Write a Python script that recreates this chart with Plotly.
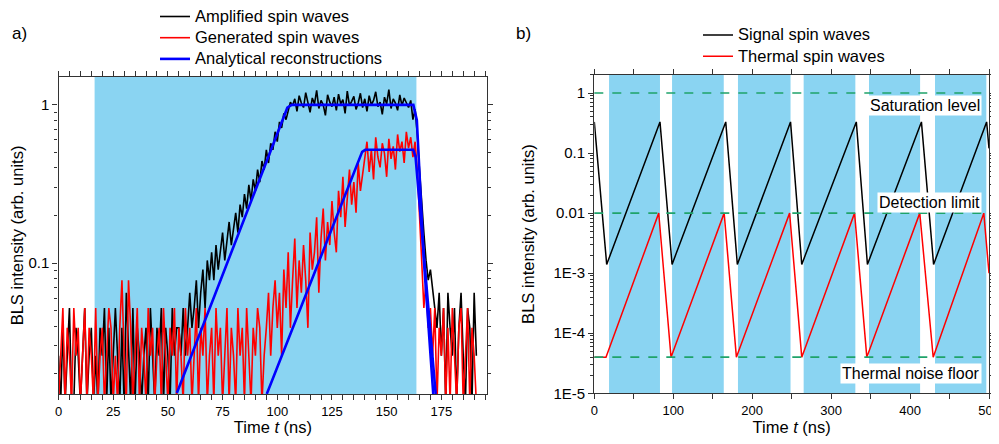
import numpy as np
import plotly.graph_objects as go

COUNT = 0.013  # BLS intensity of one detected photon (arb. units)

# ---------------- panel a) : measured traces, 1 ns bins, photon counts
time_a = list(range(192))

amplified_counts = [
    2, 1, 3, 1, 2, 4, 1, 1, 3, 2, 1, 2, 4, 1, 2, 3, 1, 2, 1, 3,
    2, 4, 1, 3, 1, 2, 4, 2, 1, 3, 1, 5, 2, 1, 4, 1, 3, 2, 1, 2,
    3, 1, 4, 2, 1, 3, 2, 4, 1, 3, 2, 1, 4, 2, 3,
    # 55 .. 104 : amplification
    3, 2, 4, 2, 3, 5, 3, 4, 6, 3, 5, 7, 4, 8, 6, 9, 6, 10, 7, 9,
    12, 8, 11, 14, 10, 13, 16, 12, 18, 15, 21, 17, 24, 19, 26, 22, 30, 25, 34, 30,
    40, 33, 44, 40, 52, 45, 60, 55, 68, 62,
    # 105 .. 162 : saturation
    72, 80, 76, 84, 70, 88, 79, 74, 92, 81, 69, 85, 78, 95, 73, 82, 77, 66, 89, 80,
    75, 86, 71, 90, 78, 83, 68, 94, 76, 81, 87, 72, 79, 91, 74, 84, 70, 88, 77, 82,
    93, 75, 80, 67, 86, 78, 96, 73, 84, 79, 71, 89, 76, 85, 80, 74, 82, 62,
    # 163 .. 172 : decay
    72, 50, 30, 18, 12, 8, 6, 7, 5, 4,
    # 173 .. 191
    3, 5, 2, 4, 1, 5, 3, 2, 4, 1, 3, 5, 2, 1, 4, 3, 1, 5, 2,
]

generated_counts = [
    1, 2, 4, 1, 3, 2, 1, 4, 2, 3, 1, 2, 4, 1, 3, 2, 1, 4, 1, 2,
    3, 1, 2, 4, 3, 1, 2, 1, 3, 6, 2, 1, 6, 3, 1, 2, 4, 1, 3, 2,
    1, 4, 2, 3, 1, 2, 3, 1, 4, 2, 1, 3, 2, 4, 1, 3, 2, 1, 4, 2,
    3, 1, 2, 4, 1, 3, 2, 4, 1, 2, 3, 1, 4, 2, 3, 1, 2, 4, 1, 3,
    2, 1, 4, 2, 3, 1, 4, 2, 1, 3, 2, 4, 3, 1, 2,
    # 95 .. 139 : growth
    3, 5, 2, 4, 6, 3, 5, 2, 7, 4, 9, 3, 6, 11, 4, 8, 5, 10, 6, 3,
    12, 7, 9, 15, 5, 11, 17, 8, 14, 10, 19, 12, 9, 22, 15, 27, 13, 20, 30, 18,
    25, 16, 33, 22, 28,
    # 140 .. 162 : saturation
    34, 45, 29, 40, 26, 48, 36, 31, 44, 38, 27, 47, 35, 42, 30, 50, 39, 45, 33, 52,
    41, 48, 36,
    # 163 .. 170 : decay
    45, 30, 14, 8, 4, 6, 3, 4,
    # 171 .. 191
    2, 4, 1, 3, 2, 4, 1, 3, 1, 4, 2, 1, 3, 4, 1, 2, 4, 1, 3, 2, 1,
]

amplified = [c * COUNT for c in amplified_counts]
generated = [c * COUNT for c in generated_counts]

recon_amp_t = [54.1, 103.0, 104.6, 106.6, 162.2, 163.8, 167.0, 171.3]
recon_amp_v = [0.0151, 0.86, 0.96, 1.0, 1.0, 0.8, 0.104, 0.0149]
recon_gen_t = [95.2, 137.6, 138.8, 140.2, 162.2, 163.2, 164.5, 172.4]
recon_gen_v = [0.0149, 0.47, 0.505, 0.52, 0.52, 0.47, 0.29, 0.0149]

pump_a = (16.5, 163.6)

# ---------------- panel b) : model
signal_t = [0, 15.7, 83.2, 98.5, 166.5, 181.2, 248.6, 262.8, 331.9, 346.0, 414.4, 429.8, 497.0, 500]
signal_v = [0.33, 0.0014, 0.33, 0.0014, 0.33, 0.0014, 0.33, 0.0014, 0.33, 0.0014, 0.33, 0.0014, 0.33, 0.12]
thermal_t = [0, 14.8, 81.6, 97.2, 164.5, 180.0, 247.4, 262.8, 329.7, 345.2, 412.3, 429.3, 493.4, 500]
thermal_v = [4e-5, 4e-5, 0.01, 4e-5, 0.01, 4e-5, 0.01, 4e-5, 0.01, 4e-5, 0.01, 4e-5, 0.01, 1e-3]

pump_on = [18.7, 98.5, 182.0, 265.2, 348.0, 431.6]
pump_off = [83.2, 164.0, 248.6, 330.7, 412.7, 496.6]

levels = [1.0, 0.01, 4e-5]
level_names = ["Saturation level", "Detection limit", "Thermal noise floor"]
level_label_shift = [-0.21, 0.17, -0.28]

# ---------------- styling
W, H = 991, 428          # page body has an 8 px margin
FONT = "Arial, Liberation Sans, sans-serif"
PUMP = "#8ad4f2"
AXC = "#333333"
GREEN = "#1fa36a"


def lg(name):
    # legend rows are spaced by the (smaller) legend font, text drawn larger
    return '<span style="font-size:16.5px">%s</span>' % name


fig = go.Figure()

fig.add_trace(go.Scatter(x=time_a, y=amplified, mode="lines", name=lg("Amplified spin waves"),
                         line=dict(color="black", width=1.6), legend="legend"))
fig.add_trace(go.Scatter(x=time_a, y=generated, mode="lines", name=lg("Generated spin waves"),
                         line=dict(color="#ff0000", width=1.6), legend="legend"))
fig.add_trace(go.Scatter(x=recon_amp_t, y=recon_amp_v, mode="lines", name=lg("Analytical reconstructions"),
                         line=dict(color="#0000ff", width=2.6), legend="legend"))
fig.add_trace(go.Scatter(x=recon_gen_t, y=recon_gen_v, mode="lines", showlegend=False,
                         line=dict(color="#0000ff", width=2.6)))

fig.add_trace(go.Scatter(x=signal_t, y=signal_v, mode="lines", name=lg("Signal spin waves"),
                         line=dict(color="black", width=1.5), xaxis="x2", yaxis="y2", legend="legend2"))
fig.add_trace(go.Scatter(x=thermal_t, y=thermal_v, mode="lines", name=lg("Thermal spin waves"),
                         line=dict(color="#ff0000", width=1.5), xaxis="x2", yaxis="y2", legend="legend2"))

# empty traces that carry the minor-tick overlay axes
fig.add_trace(go.Scatter(x=[], y=[], xaxis="x", yaxis="y3", showlegend=False, hoverinfo="skip"))
fig.add_trace(go.Scatter(x=[], y=[], xaxis="x2", yaxis="y4", showlegend=False, hoverinfo="skip"))

shapes = [dict(type="rect", xref="x", yref="y domain", x0=pump_a[0], x1=pump_a[1], y0=0, y1=1,
               fillcolor=PUMP, line_width=0, layer="below")]
for a, b in zip(pump_on, pump_off):
    shapes.append(dict(type="rect", xref="x2", yref="y2 domain", x0=a, x1=b, y0=0, y1=1,
                       fillcolor=PUMP, line_width=0, layer="below"))
for lv in levels:
    shapes.append(dict(type="line", xref="x2 domain", yref="y2", x0=0, x1=1, y0=lv, y1=lv,
                       line=dict(color=GREEN, width=1.6, dash="dash")))

annotations = [
    dict(text="a)", xref="paper", yref="paper", x=2 / W, y=1 - 25 / H, xanchor="left",
         yanchor="middle", showarrow=False, font=dict(size=17)),
    dict(text="b)", xref="paper", yref="paper", x=506 / W, y=1 - 25 / H, xanchor="left",
         yanchor="middle", showarrow=False, font=dict(size=17)),
]
for lv, name, sh in zip(levels, level_names, level_label_shift):
    annotations.append(dict(text=name, xref="x2", yref="y2", x=491, y=np.log10(lv) + sh,
                            xanchor="right", yanchor="middle", showarrow=False,
                            bgcolor="white", borderpad=1, font=dict(size=16)))

ax_common = dict(showline=True, linecolor=AXC, linewidth=1.3, mirror="allticks",
                 ticks="outside", ticklen=5, tickwidth=1.2, tickcolor=AXC,
                 showgrid=False, zeroline=False, tickfont=dict(size=13, color="black"))
ytick = dict(ax_common, tickfont=dict(size=15, color="black"))
minor_ax = dict(showline=True, linecolor=AXC, linewidth=1.3, mirror="ticks", ticks="outside",
                ticklen=3, tickwidth=1.1, tickcolor=AXC, showticklabels=False,
                showgrid=False, zeroline=False, type="log", tickmode="array")

minor_a = [m * d for d in (0.01, 0.1) for m in range(2, 10)]
minor_b = [m * d for d in (1e-5, 1e-4, 1e-3, 1e-2, 1e-1, 1) for m in range(2, 10)]

dom_ya = [1 - 386 / H, 1 - 69 / H]
dom_yb = [1 - 385.3 / H, 1 - 66.7 / H]

fig.update_layout(
    width=W, height=H, margin=dict(l=0, r=0, t=0, b=0, autoexpand=False),
    paper_bgcolor="white", plot_bgcolor="white",
    font=dict(family=FONT, color="black"),
    shapes=shapes, annotations=annotations,
    xaxis=dict(domain=[50.5 / W, 479.3 / W], range=[0, 196], anchor="y",
               tickmode="linear", tick0=0, dtick=25,
               minor=dict(ticks="outside", ticklen=3, tick0=0, dtick=5, tickcolor=AXC),
               title=dict(text="Time <i>t</i> (ns)", font=dict(size=16.5), standoff=4), **ax_common),
    yaxis=dict(domain=dom_ya, type="log", range=[-1.827, 0.176], anchor="x",
               tickmode="array", tickvals=[0.1, 1], ticktext=["0.1", "1"],
               title=dict(text="BLS intensity (arb. units)", font=dict(size=16.5), standoff=4), **ytick),
    yaxis3=dict(minor_ax, overlaying="y", anchor="x", side="left", range=[-1.827, 0.176],
                tickvals=minor_a),
    xaxis2=dict(domain=[586.3 / W, 981 / W], range=[0, 500], anchor="y2",
                tickmode="linear", tick0=0, dtick=100, ticklabeloverflow="allow",
                minor=dict(ticks="outside", ticklen=3, tick0=0, dtick=50, tickcolor=AXC),
                title=dict(text="Time <i>t</i> (ns)", font=dict(size=16.5), standoff=4), **ax_common),
    yaxis2=dict(domain=dom_yb, type="log", range=[-5, 0.305], anchor="x2",
                tickmode="array", tickvals=[1e-5, 1e-4, 1e-3, 0.01, 0.1, 1],
                ticktext=["1E-5", "1E-4", "1E-3", "0.01", "0.1", "1"],
                title=dict(text="BLS intensity (arb. units)", font=dict(size=16.5), standoff=14), **ytick),
    yaxis4=dict(minor_ax, overlaying="y2", anchor="x2", side="left", range=[-5, 0.305],
                tickvals=minor_b),
    legend=dict(x=147 / W, y=1.0166, xanchor="left", yanchor="top", bgcolor="rgba(0,0,0,0)",
                font=dict(size=14), tracegroupgap=0, itemwidth=30),
    legend2=dict(x=690 / W, y=0.9734, xanchor="left", yanchor="top", bgcolor="rgba(0,0,0,0)",
                 font=dict(size=14), tracegroupgap=0, itemwidth=30),
)

fig.write_html("out.html")
